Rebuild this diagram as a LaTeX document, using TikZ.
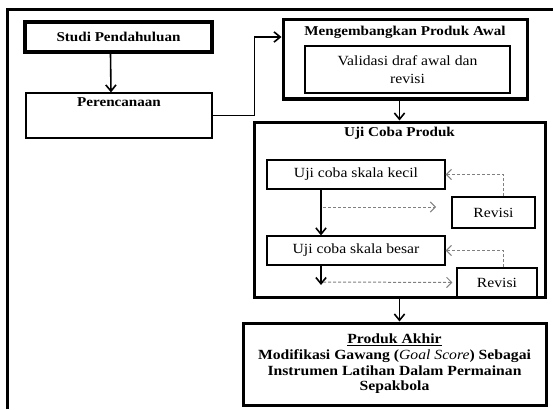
\documentclass[tikz,border=0pt]{standalone}
\usepackage{fontspec}
\setmainfont{Liberation Serif}[FakeStretch=1.12]
\usetikzlibrary{arrows.meta}

\begin{document}
\begin{tikzpicture}[x=1pt, y=-1pt, font=\fontsize{14}{18}\selectfont,
	every node/.style={inner sep=0pt},
	heavybox/.style={draw, line width=3pt},
	thinbox/.style={draw, line width=1.2pt},
	boldtext/.style={font=\fontsize{13.5}{16}\selectfont\bfseries},
	conn/.style={line width=1.6pt, -{Straight Barb[length=2.2mm, width=3.6mm]}},
	dashconn/.style={gray, line width=1pt, dash pattern=on 3pt off 2pt, -{Straight Barb[length=1.8mm, width=3.6mm]}}]
	\useasboundingbox (0,0) rectangle (553,409);
	% frame round the whole scheme
	\draw[line width=3pt] (7,409) -- (7,10) -- (553,10);
	% left column
	\node[draw, line width=4pt, minimum width=187, minimum height=30, boldtext] (studi) at (118.5,37) {Studi Pendahuluan};
	\node[thinbox, minimum width=186, minimum height=45] (plan) at (119,115.5) {};
	\node[boldtext, anchor=north] (plantitle) at ([yshift=-5pt]plan.north) {Perencanaan};
	% development
	\node[heavybox, minimum width=244, minimum height=79] (dev) at (405,59.5) {};
	\node[boldtext, anchor=north] (devtitle) at ([yshift=-7pt]dev.north) {Mengembangkan Produk Awal};
	\node[thinbox, minimum width=205, minimum height=47, align=center] (valid) at (407.5,69.5) {Validasi draf awal dan\\revisi};
	% trials
	\node[heavybox, minimum width=291, minimum height=175] (uji) at (399.5,209.5) {};
	\node[boldtext, anchor=north] (ujititle) at ([yshift=-6pt]uji.north) {Uji Coba Produk};
	\node[thinbox, minimum width=178, minimum height=29] (kecil) at (356,174.5) {Uji coba skala kecil};
	\node[thinbox, minimum width=83, minimum height=31] (rev1) at (493.5,212.5) {Revisi};
	\node[thinbox, minimum width=178, minimum height=29] (besar) at (356,250.5) {Uji coba skala besar};
	\node[thinbox, fill=white, minimum width=80, minimum height=29] (rev2) at (497,282.5) {Revisi};
	% result
	\node[heavybox, minimum width=303, minimum height=82, align=center, font=\fontsize{14}{15.7}\selectfont\bfseries] (final) at (394.5,364)
		{\underline{Produk Akhir}\\Modifikasi Gawang ({\mdseries\itshape Goal Score}) Sebagai\\Instrumen Latihan Dalam Permainan\\Sepakbola};

	\coordinate (lane) at (321,0);
	\coordinate (d1s) at (323,207);
	\coordinate (d1e) at (436,207);
	\coordinate (d2s) at (323,282);
	\coordinate (d2e) at (0,285);

	\draw[conn] ([xshift=-8pt]studi.south) -- ([xshift=-8pt]plan.north);
	\draw[conn] (plan.east) -- ++(42,0) |- ([yshift=22.5pt]dev.west);
	\draw[conn] (dev.south -| uji.north) -- (uji.north);
	\draw[conn] (kecil.south -| lane) -- (besar.north -| lane);
	\draw[conn] (besar.south -| lane) -- (lane |- d2e);
	\draw[conn] (uji.south) -- (uji.south |- final.north);
	% revisions
	\draw[dashconn] (d1s) -- (d1e);
	\draw[dashconn] (d2s) -- ([xshift=-4pt]rev2.west);
	\draw[dashconn] ([xshift=9.5pt]rev1.north) |- (kecil.east);
	\draw[dashconn] ([xshift=6pt]rev2.north) |- (besar.east);
\end{tikzpicture}
\end{document}
